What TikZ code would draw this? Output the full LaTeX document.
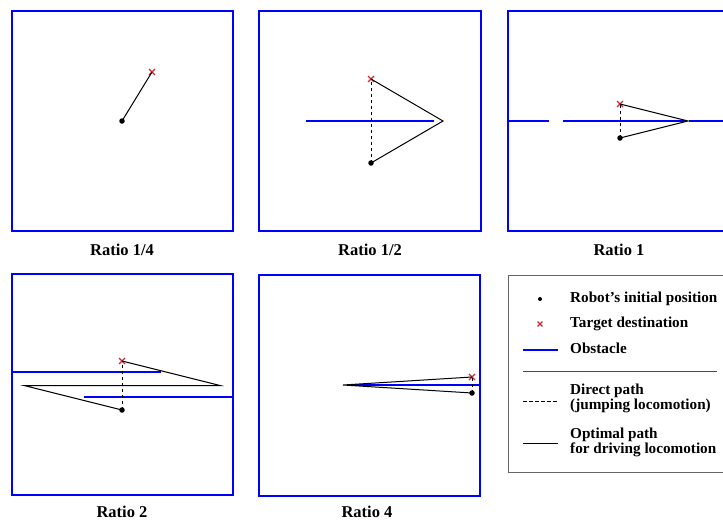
\documentclass[tikz,border=0pt]{standalone}
\usepackage{fontspec}
\setmainfont{Liberation Serif}
\usetikzlibrary{shapes.misc, positioning}
\definecolor{obstblue}{RGB}{0,0,255}
\definecolor{targetred}{RGB}{205,40,50}

\tikzset{
  panel/.style={draw=obstblue, line width=1.8pt},
  obstacle/.style={draw=obstblue, line width=1.3pt},
  direct/.style={draw=black, line width=1pt, dash pattern=on 3.5pt off 2.5pt},
  optimal/.style={draw=black, line width=1pt},
  robot/.style={circle, fill=black, inner sep=0pt, minimum size=5.5pt},
  target/.style={cross out, draw=targetred, line width=1.3pt, inner sep=0pt, minimum size=4.5pt},
  ratiolabel/.style={font=\fontsize{16.5}{18}\selectfont\bfseries},
  legendtext/.style={font=\fontsize{15.2}{15}\selectfont\bfseries, align=left, anchor=west, inner sep=0pt}
}

\begin{document}
\begin{tikzpicture}[x=1pt, y=-1pt]
  \useasboundingbox (0,0) rectangle (723,520);
  \clip (0,0) rectangle (723,520);

  % Ratio 1/4
  \draw[panel] (12,11) rectangle (233,231);
  \node[robot] (r1) at (122,121) {};
  \node[target] (t1) at (152,72) {};
  \draw[optimal] (r1.center) -- (t1.center);
  \node[ratiolabel] (l1) at (122,250) {Ratio 1/4};

  % Ratio 1/2
  \draw[panel] (259,11) rectangle (481,231);
  \coordinate (o2a) at (306,121);
  \coordinate (o2b) at (434,121);
  \draw[obstacle] (o2a) -- (o2b);
  \node[robot] (r2) at (371,163) {};
  \node[target] (t2) at (371,79) {};
  \coordinate (a2) at (443,121);
  \draw[direct] (r2.center) -- (t2.center);
  \draw[optimal] (r2.center) -- (a2) -- (t2.center);
  \node[ratiolabel] (l2) at (370,250) {Ratio 1/2};

  % Ratio 1
  \draw[panel] (508,11) rectangle (729,231);
  \draw[obstacle] (508,121) -- (549,121);
  \draw[obstacle] (563,121) -- (686,121);
  \draw[obstacle] (689,121) -- (729,121);
  \node[robot] (r3) at (620,138) {};
  \node[target] (t3) at (620,104) {};
  \coordinate (a3) at (688,121);
  \draw[direct] (r3.center) -- (t3.center);
  \draw[optimal] (r3.center) -- (a3) -- (t3.center);
  \node[ratiolabel] (l3) at (619,250) {Ratio 1};

  % Ratio 2
  \draw[panel] (12,274) rectangle (233,495);
  \draw[obstacle] (12,372) -- (161,372);
  \draw[obstacle] (84,397) -- (233,397);
  \node[robot] (r4) at (122,410) {};
  \node[target] (t4) at (122,361) {};
  \coordinate (a4) at (220,385.5);
  \coordinate (b4) at (24,385.5);
  \draw[direct] (r4.center) -- (t4.center);
  \draw[optimal] (t4.center) -- (a4) -- (b4) -- (r4.center);
  \node[ratiolabel] (l4) at (122,512) {Ratio 2};

  % Ratio 4
  \draw[panel] (259,275) rectangle (480,496);
  \draw[obstacle] (348,385) -- (480,385);
  \node[robot] (r5) at (472,393) {};
  \node[target] (t5) at (472,377) {};
  \coordinate (a5) at (343,385);
  \draw[direct] (r5.center) -- (t5.center);
  \draw[optimal] (r5.center) -- (a5) -- (t5.center);
  \node[ratiolabel] (l5) at (367,512) {Ratio 4};

  % legend
  \draw[draw=black!60, line width=1pt] (508,275) rectangle (740,472);
  \node[robot, minimum size=4pt] (lgrobot) at (540,299) {};
  \node[legendtext] (lgrobottxt) at (570,299) {Robot’s initial position};
  \node[target, minimum size=3.5pt] (lgtarget) at (540,324) {};
  \node[legendtext] (lgtargettxt) at (570,324) {Target destination};
  \coordinate (lgobsa) at (523,350);
  \coordinate (lgobsb) at (558,350);
  \draw[obstacle] (lgobsa) -- (lgobsb);
  \node[legendtext] (lgobstxt) at (570,348) {Obstacle};
  \coordinate (lgsepa) at (523,371);
  \coordinate (lgsepb) at (717,371);
  \draw[draw=black!70, line width=0.8pt] (lgsepa) -- (lgsepb);
  \coordinate (lgdira) at (523,401);
  \coordinate (lgdirb) at (558,401);
  \draw[direct] (lgdira) -- (lgdirb);
  \node[legendtext] (lgdirtxt) at (570,398) {Direct path\\(jumping locomotion)};
  \coordinate (lgopta) at (523,443);
  \coordinate (lgoptb) at (558,443);
  \draw[optimal] (lgopta) -- (lgoptb);
  \node[legendtext] (lgopttxt) at (570,442) {Optimal path\\for driving locomotion};
\end{tikzpicture}
\end{document}
